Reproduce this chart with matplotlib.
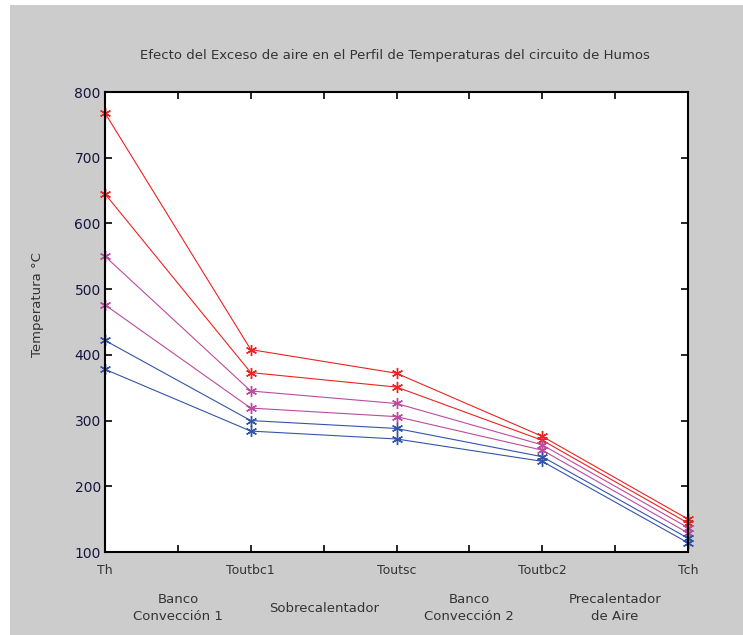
import numpy as np
import matplotlib.pyplot as plt
from matplotlib.patches import Rectangle
from matplotlib.transforms import blended_transform_factory

# puntos del circuito de humos
puntos = ['Th', 'Toutbc1', 'Toutsc', 'Toutbc2', 'Tch']
equipos = ['Banco\nConvección 1', 'Sobrecalentador', 'Banco\nConvección 2', 'Precalentador\nde Aire']

# temperaturas (°C) para cada exceso de aire
t1 = [768, 408, 372, 276, 150]
t2 = [645, 373, 351, 270, 144]
t3 = [550, 345, 326, 263, 137]
t4 = [476, 319, 306, 255, 129]
t5 = [422, 300, 288, 245, 121]
t6 = [378, 284, 272, 238, 114]
series = [t1, t2, t3, t4, t5, t6]
colores = ['#ee2222', '#ee2222', '#bb4b9e', '#bb4b9e', '#3355a8', '#3355a8']

fig = plt.figure(figsize=(7.43, 6.35), dpi=100, facecolor='white')
fig.patches.append(Rectangle((10 / 743, 0), 1, 1 - 5 / 635, transform=fig.transFigure,
                             facecolor='#cccccc', edgecolor='none', zorder=-10))

ax = fig.add_axes([105 / 743, 1 - 552 / 635, 583 / 743, 460 / 635])
x = np.arange(1, len(puntos) + 1)
asterisco = (6, 2, 0)
for y, c in zip(series, colores):
    ax.plot(x, y, color=c, lw=0.8, marker=asterisco, ms=8, mew=1.0, clip_on=False)

ax.set_xlim(1, 5)
ax.set_ylim(100, 800)
ax.set_xticks(np.arange(1, 5.01, 0.5))
ax.set_xticklabels([])
ax.set_yticks(np.arange(100, 801, 100))
ax.tick_params(direction='in', length=5, width=1.2, top=True, right=True,
               labelsize=10, labelcolor='#15153f', pad=3)
for s in ax.spines.values():
    s.set_linewidth(1.5)

trans = blended_transform_factory(ax.transData, fig.transFigure)
for i, p in enumerate(puntos):
    ax.text(x[i], 1 - 570 / 635, p, transform=trans, ha='center', va='center',
            fontsize=9, color='#333333')
for i, e in enumerate(equipos):
    ax.text(x[i] + 0.5, 1 - 608 / 635, e, transform=trans, ha='center', va='center',
            fontsize=9.5, color='#333333', linespacing=1.4)

fig.text(395 / 743, 1 - 55 / 635, 'Efecto del Exceso de aire en el Perfil de Temperaturas del circuito de Humos',
         ha='center', va='center', fontsize=9.5, color='#333333')
fig.text(37 / 743, 1 - 305 / 635, 'Temperatura °C', rotation=90, ha='center', va='center',
         fontsize=9.5, color='#333333')

fig.savefig('out.png', dpi=100, facecolor=fig.get_facecolor())
